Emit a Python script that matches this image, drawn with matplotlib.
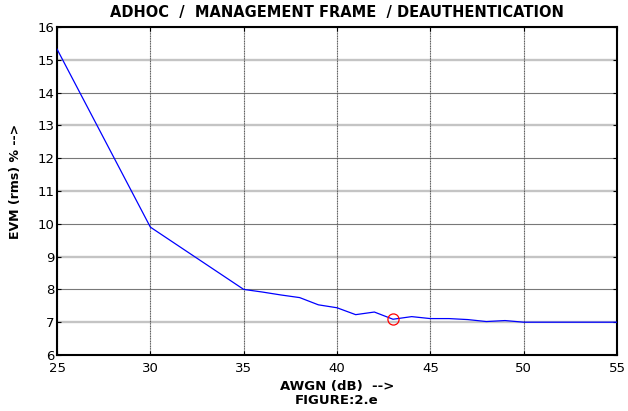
import matplotlib
matplotlib.use("Agg")
import matplotlib.pyplot as plt

plt.rcParams['font.family'] = ['DejaVu Sans']

awgn = [25, 30, 35, 36, 37, 38, 39, 40, 41, 42, 43, 44, 45, 46, 47, 48, 49, 50, 51, 52, 53, 54, 55]
evm = [15.33, 9.9, 8.0, 7.92, 7.83, 7.75, 7.53, 7.44, 7.23, 7.31, 7.09, 7.17, 7.11, 7.11, 7.08, 7.02, 7.05, 7.0, 7.0, 7.0, 7.0, 7.0, 7.0]
min_x = [43]
min_y = [7.09]
xticks = [25, 30, 35, 40, 45, 50, 55]
yticks = [6, 7, 8, 9, 10, 11, 12, 13, 14, 15, 16]

fig = plt.figure(figsize=(6.28, 4.11), dpi=100)
ax = fig.add_axes([0.0908, 0.1363, 0.8917, 0.7977])

for y in yticks:
    if y % 2 == 1:
        ax.axhline(y, color='#c4c4c4', lw=1.7, zorder=0)
    else:
        ax.axhline(y, color='#787878', lw=0.8, zorder=0)
for x in xticks:
    ax.axvline(x, color='#585858', lw=0.8, ls=(0, (1, 0.5)), zorder=0)

ax.plot(awgn, evm, color='#0000ff', lw=0.9, zorder=3)
ax.plot(min_x, min_y, 'o', mfc='none', mec='red', ms=8, mew=0.9, zorder=4)

ax.set_xlim(25, 55)
ax.set_ylim(6, 16)
ax.set_xticks(xticks)
ax.set_yticks(yticks)
ax.tick_params(direction='in', top=True, right=True, length=3, width=0.8, labelsize=9.5)
ax.tick_params(axis='x', pad=5)
ax.tick_params(axis='y', pad=2)
for s in ax.spines.values():
    s.set_linewidth(1.5)
    s.set_color('black')

ax.set_title('ADHOC  /  MANAGEMENT FRAME  / DEAUTHENTICATION', fontsize=10.5, fontweight='bold', pad=7)
ax.set_xlabel('AWGN (dB)  -->\nFIGURE:2.e', fontsize=9.5, fontweight='bold', labelpad=4, linespacing=1.05)
ax.set_ylabel('EVM (rms) % -->', fontsize=9, fontweight='bold')
ax.yaxis.set_label_coords(-0.062, 0.53)

fig.savefig('out.png', dpi=100)
